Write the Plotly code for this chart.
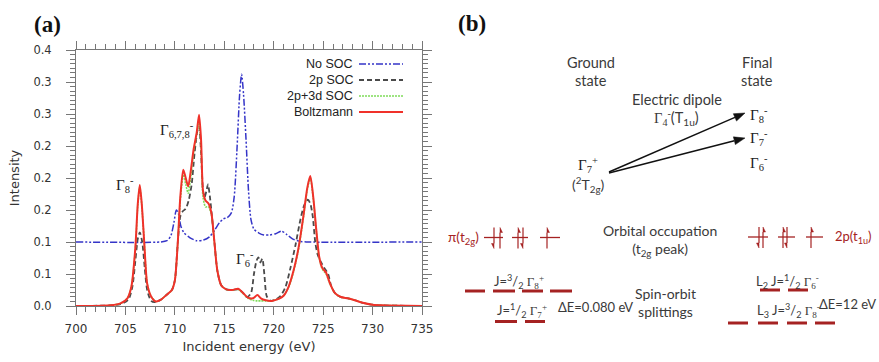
import math
import plotly.graph_objects as go

# ---------------- data (panel a) ----------------
red_x = [700, 702, 703.5, 704.5, 705.2, 705.6, 706.0, 706.25, 706.45, 706.65, 706.9, 707.2, 707.6, 708.1,
         708.6, 709.2, 709.7, 710.0, 710.3, 710.55, 710.85, 711.1, 711.35, 711.6, 711.9, 712.2, 712.45,
         712.65, 712.85, 713.1, 713.4, 713.7, 714.0, 714.3, 714.7, 715.2, 715.8, 716.4, 716.8, 717.4,
         717.9, 718.35, 718.7, 719.2, 719.8, 720.5, 721.0, 721.5, 722.0, 722.5, 723.0, 723.4, 723.7,
         724.0, 724.3, 724.6, 724.9, 725.3, 725.7, 726.2, 726.8, 727.5, 728.2, 729.0, 730.0, 731.0, 735]
red_y = [0.0, 0.0, 0.001, 0.004, 0.012, 0.03, 0.09, 0.16, 0.189, 0.16, 0.10, 0.035, 0.015, 0.007,
         0.01, 0.018, 0.025, 0.04, 0.10, 0.17, 0.213, 0.200, 0.187, 0.21, 0.245, 0.27, 0.299,
         0.26, 0.18, 0.165, 0.16, 0.145, 0.10, 0.055, 0.032, 0.026, 0.025, 0.027, 0.022, 0.013,
         0.012, 0.017, 0.012, 0.009, 0.008, 0.011, 0.016, 0.03, 0.055, 0.09, 0.14, 0.185, 0.203,
         0.17, 0.12, 0.077, 0.06, 0.052, 0.035, 0.02, 0.014, 0.012, 0.009, 0.005, 0.002, 0.001, 0.0]

green_x = red_x
green_y = [0.0, 0.0, 0.001, 0.004, 0.012, 0.03, 0.088, 0.157, 0.186, 0.158, 0.10, 0.035, 0.015, 0.007,
           0.01, 0.018, 0.025, 0.04, 0.10, 0.165, 0.205, 0.19, 0.176, 0.2, 0.24, 0.268, 0.286,
           0.25, 0.17, 0.155, 0.155, 0.143, 0.10, 0.055, 0.032, 0.026, 0.025, 0.026, 0.021, 0.012,
           0.009, 0.008, 0.008, 0.008, 0.008, 0.011, 0.016, 0.029, 0.053, 0.088, 0.138, 0.182, 0.2,
           0.168, 0.118, 0.075, 0.058, 0.05, 0.034, 0.02, 0.014, 0.012, 0.009, 0.005, 0.002, 0.001, 0.0]

black_x = [700, 703.5, 704.5, 705.3, 705.7, 706.0, 706.25, 706.45, 706.7, 706.95, 707.2, 707.6, 708.0,
           708.6, 709.2, 709.7, 710.0, 710.3, 710.55, 710.8, 711.1, 711.4, 711.7, 712.0, 712.3, 712.45,
           712.65, 712.85, 713.0, 713.2, 713.35, 713.55, 713.75, 714.0, 714.3, 714.7, 715.2, 715.8,
           716.4, 716.8, 717.3, 717.7, 718.0, 718.25, 718.45, 718.65, 718.85, 719.05, 719.3, 719.7,
           720.2, 720.7, 721.2, 721.7, 722.2, 722.7, 723.1, 723.45, 723.7, 723.95, 724.2, 724.45,
           724.8, 725.1, 725.5, 725.8, 726.2, 726.8, 727.5, 728.2, 729.0, 730.0, 731.0, 735]
black_y = [0.0, 0.001, 0.003, 0.01, 0.03, 0.07, 0.105, 0.115, 0.10, 0.06, 0.025, 0.008, 0.006,
           0.01, 0.018, 0.025, 0.04, 0.10, 0.14, 0.148, 0.152, 0.165, 0.19, 0.24, 0.275, 0.28,
           0.24, 0.18, 0.17, 0.18, 0.19, 0.17, 0.14, 0.10, 0.055, 0.032, 0.026, 0.025,
           0.026, 0.022, 0.014, 0.02, 0.05, 0.07, 0.076, 0.068, 0.074, 0.05, 0.015, 0.008,
           0.01, 0.016, 0.03, 0.06, 0.095, 0.135, 0.158, 0.166, 0.16, 0.14, 0.10, 0.08,
           0.068, 0.06, 0.05, 0.032, 0.02, 0.014, 0.012, 0.009, 0.005, 0.002, 0.001, 0.0]

blue_x = [700, 708.5, 709.2, 709.6, 709.9, 710.15, 710.35, 710.6, 710.9, 711.5, 712.2, 712.9, 713.5,
          714.0, 714.5, 714.9, 715.3, 715.7, 716.0, 716.3, 716.55, 716.75, 716.95, 717.2, 717.45,
          717.7, 718.0, 718.5, 719.0, 719.6, 720.2, 720.8, 721.3, 721.9, 722.6, 723.5, 735]
blue_y = [0.1, 0.1, 0.102, 0.11, 0.13, 0.15, 0.145, 0.125, 0.115, 0.107, 0.102, 0.103, 0.108,
          0.118, 0.13, 0.136, 0.138, 0.145, 0.17, 0.25, 0.33, 0.362, 0.33, 0.26, 0.18,
          0.135, 0.12, 0.114, 0.111, 0.111, 0.113, 0.117, 0.112, 0.105, 0.101, 0.1, 0.1]

series_names = ["No SOC", "2p SOC", "2p+3d SOC", "Boltzmann"]
x_ticks = [700, 705, 710, 715, 720, 725, 730, 735]
y_ticks = [0.0, 0.05, 0.10, 0.15, 0.20, 0.25, 0.30, 0.35, 0.40]
y_ticktext = ["0.0", "0.1", "0.1", "0.2", "0.2", "0.2", "0.3", "0.3", "0.4"]

# ---------------- layout helpers ----------------
W, H = 879, 362
PL, PR, PT, PB = 76, 422, 50, 306   # plot-area pixel box


def X(px):
    return (px - PL) / (PR - PL)


def Y(py):
    return (PB - py) / (PB - PT)


BLUE = "#3535c8"
BLACK = "#4a4a4a"
GREEN = "#7fdc5a"
RED = "#f0312a"
AX = "#777777"
DRED = "#a52222"
TXT = "#3a3a3a"

styles = [
    dict(color=BLUE, width=1.5, dash="7px,2px,2px,2px,2px,2px"),
    dict(color=BLACK, width=1.8, dash="5px,3px"),
    dict(color=GREEN, width=1.6, dash="2px,1px"),
    dict(color=RED, width=2.0),
]

fig = go.Figure()
for (xs, ys), st, nm in zip([(blue_x, blue_y), (black_x, black_y), (green_x, green_y), (red_x, red_y)],
                            styles, series_names):
    fig.add_trace(go.Scatter(x=xs, y=ys, mode="lines", name=nm, line=dict(shape="spline", smoothing=0.7, **st),
                             showlegend=False, hoverinfo="skip"))

annotations = []
shapes = []


def txt(px, py, s, size=14, color=TXT, family="Lato", xanchor="center"):
    annotations.append(dict(x=X(px), y=Y(py), xref="paper", yref="paper", text=s, showarrow=False,
                            font=dict(family=family, size=size, color=color), xanchor=xanchor,
                            yanchor="middle"))


def hline(x0, x1, py, color, width, dash="solid"):
    shapes.append(dict(type="line", xref="paper", yref="paper", x0=X(x0), x1=X(x1), y0=Y(py), y1=Y(py),
                       line=dict(color=color, width=width, dash=dash)))


def arrow(xh, yh, xt, yt, color, width, hl, hw, half=False):
    """arrow drawn with shapes: shaft line plus a filled head (pixel units)."""
    dx, dy = xh - xt, yh - yt
    L = math.hypot(dx, dy)
    ux, uy = dx / L, dy / L
    bx, by = xh - ux * hl, yh - uy * hl
    shapes.append(dict(type="line", xref="paper", yref="paper", x0=X(xt), y0=Y(yt), x1=X(bx), y1=Y(by),
                       line=dict(color=color, width=width)))
    nx, ny = -uy, ux
    p1 = (bx + nx * hw / 2, by + ny * hw / 2)
    p2 = (bx - nx * hw / 2, by - ny * hw / 2) if not half else (bx, by)
    path = f"M {X(xh)} {Y(yh)} L {X(p1[0])} {Y(p1[1])} L {X(p2[0])} {Y(p2[1])} Z"
    shapes.append(dict(type="path", xref="paper", yref="paper", path=path, fillcolor=color,
                       line=dict(color=color, width=0.5)))


def G(sub, sup):
    return (f"<span style='font-family:Liberation Serif'>Γ<sub>{sub}</sub><sup>{sup}</sup></span>")


# manual legend (text right, sample on right)
leg_rows = [64, 80, 96, 112]
for nm, st, ry in zip(series_names, styles, leg_rows):
    txt(355, ry, nm, size=12.5, family="Liberation Sans", color="#222", xanchor="right")
    hline(359, 403, ry, st["color"], st["width"], st.get("dash", "solid"))

# peak labels panel (a)
txt(177, 130, G("6,7,8", "-"), size=15, color="#222", family="Liberation Serif")
txt(125, 185, G("8", "-"), size=15, color="#222", family="Liberation Serif")
txt(245, 259, G("6", "-"), size=15, color="#222", family="Liberation Serif")

# panel labels
txt(47, 24, "<b>(a)</b>", size=23, color="#111", family="Liberation Serif")
txt(472, 23, "<b>(b)</b>", size=23, color="#111", family="Liberation Serif")

# ---------------- panel (b) ----------------
txt(591, 62, "Ground", size=14.5)
txt(591, 80, "state", size=14.5)
txt(757, 62, "Final", size=14.5)
txt(757, 80, "state", size=14.5)
txt(677, 99, "Electric dipole", size=14.5)
txt(676, 118, G("4", "-") + "(T<sub>1u</sub>)", size=14.5)
txt(748, 115, G("8", "-"), size=15, color="#222", xanchor="left")
txt(748, 138, G("7", "-"), size=15, color="#222", xanchor="left")
txt(748, 163, G("6", "-"), size=15, color="#222", xanchor="left")
txt(588, 165, G("7", "+"), size=15, color="#222")
txt(588, 184, "(<sup>2</sup>T<sub>2g</sub>)", size=14)
arrow(745, 113, 609, 172, "#111", 1.5, 11, 8)
arrow(745, 138, 609, 173, "#111", 1.5, 11, 8)

# orbital occupation
txt(481, 238, "π(t<sub>2g</sub>)", size=13.5, color=DRED, xanchor="right")
txt(833, 237, "2p(t<sub>1u</sub>)", size=13, color=DRED, xanchor="left")
txt(660, 240, "Orbital occupation<br>(t<sub>2g</sub> peak)", size=14)

orb_left = [(484, 503), (512, 528), (540, 560)]
orb_right = [(748, 768), (778, 795), (806, 823)]
for segs, oy, arrs in [(orb_left, 237.5, [(500, "u"), (494, "d"), (518, "u"), (523, "d"), (547, "u")]),
                       (orb_right, 237, [(763, "u"), (759, "d"), (783, "u"), (787, "d"), (811, "u")])]:
    for a, b in segs:
        hline(a, b, oy, DRED, 1.3)
    for ax_, d in arrs:
        if d == "u":
            arrow(ax_, oy - 10, ax_, oy + 11, DRED, 1.2, 5, 5, half=True)
        else:
            arrow(ax_, oy + 11, ax_, oy - 10, DRED, 1.2, 5, 5, half=True)

# spin-orbit splittings
txt(665, 302, "Spin-orbit<br>splittings", size=14)
txt(519, 281, "J=<sup>3</sup>/<sub>2</sub> " + G("8", "+"), size=13)
txt(522, 310, "J=<sup>1</sup>/<sub>2</sub> " + G("7", "+"), size=13)
txt(556, 307, "ΔE=0.080 eV", size=13, xanchor="left")
for a, b in [(465, 485), (493, 515), (522, 543), (550, 572)]:
    hline(a, b, 291, DRED, 3)
for a, b in [(495, 517), (525, 545)]:
    hline(a, b, 321.5, DRED, 3)

txt(787, 281, "L<sub>2</sub> J=<sup>1</sup>/<sub>2</sub> " + G("6", "-"), size=13)
txt(788, 310, "L<sub>3</sub> J=<sup>3</sup>/<sub>2</sub> " + G("8", "-"), size=13)
txt(878, 304, "ΔE=12 eV", size=13, xanchor="right")
for a, b in [(760, 780), (788, 808)]:
    hline(a, b, 290, DRED, 3)
for a, b in [(728, 748), (758, 778), (787, 807), (815, 835)]:
    hline(a, b, 323, DRED, 3)

# ---------------- axes ----------------
tickfont = dict(family="DejaVu Sans", size=12, color="#333")
fig.update_layout(
    width=W, height=H,
    margin=dict(l=PL, r=W - PR, t=PT, b=H - PB, pad=0),
    paper_bgcolor="white", plot_bgcolor="white",
    showlegend=False,
    xaxis=dict(range=[700, 735], tickmode="array", tickvals=x_ticks, ticks="outside", ticklen=8,
               tickcolor=AX, tickwidth=1, showline=True, linecolor=AX, linewidth=1, mirror="ticks",
               showgrid=False, zeroline=False, tickfont=tickfont, automargin=False,
               ticklabelstandoff=4,
               minor=dict(tickmode="linear", tick0=700, dtick=1, ticks="outside", ticklen=5,
                          tickcolor=AX, showgrid=False),
               title=dict(text="Incident energy (eV)", font=dict(family="DejaVu Sans", size=13, color="#333"),
                          standoff=6)),
    yaxis=dict(range=[0, 0.4], tickmode="array", tickvals=y_ticks, ticktext=y_ticktext, ticks="outside",
               ticklen=9, tickcolor=AX, tickwidth=1, showline=True, linecolor=AX, linewidth=1,
               mirror="ticks", showgrid=False, zeroline=False, tickfont=dict(family="DejaVu Sans", size=11.5,
                                                                             color="#333"),
               automargin=False, ticklabelstandoff=12,
               minor=dict(tickmode="linear", tick0=0, dtick=0.05 / 7, ticks="outside", ticklen=5,
                          tickcolor=AX, showgrid=False),
               title=dict(text="Intensity", font=dict(family="DejaVu Sans", size=13, color="#333"),
                          standoff=10)),
    annotations=annotations,
    shapes=shapes,
)

fig.write_html("out.html")
